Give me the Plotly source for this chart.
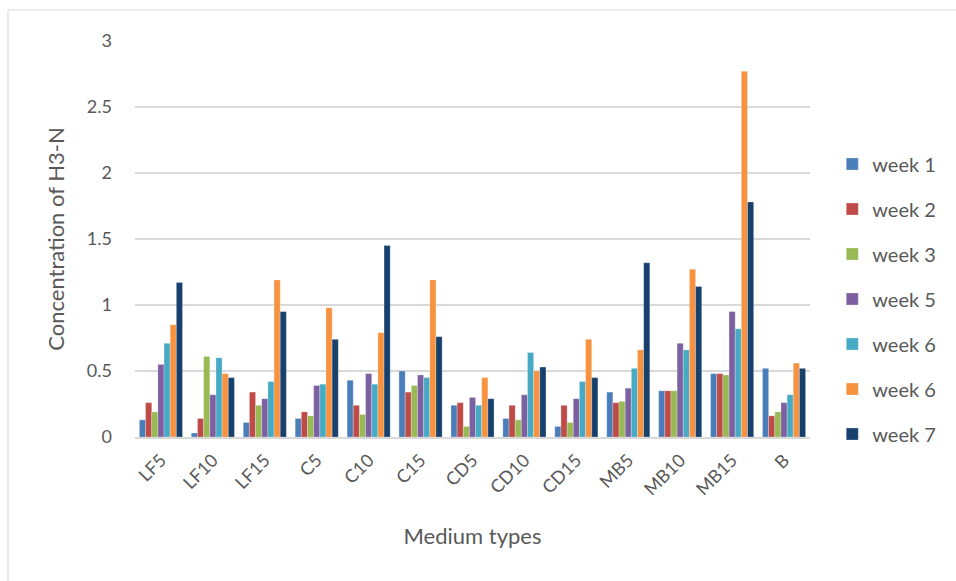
import plotly.graph_objects as go

# Medium types on the x axis
categories = ["LF5", "LF10", "LF15", "C5", "C10", "C15", "CD5", "CD10",
              "CD15", "MB5", "MB10", "MB15", "B"]

# H3-N concentration per week
week1 = [0.13, 0.03, 0.11, 0.14, 0.43, 0.50, 0.24, 0.14, 0.08, 0.34, 0.35, 0.48, 0.52]
week2 = [0.26, 0.14, 0.34, 0.19, 0.24, 0.34, 0.26, 0.24, 0.24, 0.26, 0.35, 0.48, 0.16]
week3 = [0.19, 0.61, 0.24, 0.16, 0.17, 0.39, 0.08, 0.13, 0.11, 0.27, 0.35, 0.47, 0.19]
week5 = [0.55, 0.32, 0.29, 0.39, 0.48, 0.47, 0.30, 0.32, 0.29, 0.37, 0.71, 0.95, 0.26]
week6a = [0.71, 0.60, 0.42, 0.40, 0.40, 0.45, 0.24, 0.64, 0.42, 0.52, 0.66, 0.82, 0.32]
week6b = [0.85, 0.48, 1.19, 0.98, 0.79, 1.19, 0.45, 0.50, 0.74, 0.66, 1.27, 2.77, 0.56]
week7 = [1.17, 0.45, 0.95, 0.74, 1.45, 0.76, 0.29, 0.53, 0.45, 1.32, 1.14, 1.78, 0.52]

series_names = ["week 1", "week 2", "week 3", "week 5", "week 6", "week 6", "week 7"]
series_values = [week1, week2, week3, week5, week6a, week6b, week7]
series_colors = ["#4a7ebb", "#be4b48", "#98b954", "#7d60a0", "#46aac5", "#f69240", "#17406d"]

y_ticks = [0, 0.5, 1, 1.5, 2, 2.5, 3]
y_tick_text = ["0", "0.5", "1", "1.5", "2", "2.5", "3"]

FONT = "Lato"
GREY = "#595959"

fig = go.Figure()
for i, (name, vals, col) in enumerate(zip(series_names, series_values, series_colors)):
    fig.add_trace(go.Bar(
        x=categories, y=vals, name=name,
        marker=dict(color=col, line=dict(color="rgba(255,255,255,0.5)", width=0.5)),
        legendgroup=f"g{i}",
    ))

fig.update_layout(
    width=956, height=581,
    margin=dict(l=135, r=146, t=41, b=144),
    paper_bgcolor="white", plot_bgcolor="white",
    barmode="group", bargap=0.17, bargroupgap=0,
    font=dict(family=FONT, color=GREY),
    legend=dict(
        x=1.033, y=(437 - 299) / 396, xanchor="left", yanchor="middle",
        font=dict(size=20, color=GREY, family=FONT),
        tracegroupgap=16, traceorder="grouped",
        bgcolor="rgba(0,0,0,0)",
    ),
    xaxis=dict(
        tickangle=-45, tickfont=dict(size=18, color=GREY),
        showgrid=False, showline=True, linecolor="#d9d9d9", linewidth=1.5,
        ticks="", ticklabelstandoff=4,
        title=dict(text="Medium types", font=dict(size=22, color=GREY), standoff=30),
    ),
    yaxis=dict(
        range=[0, 3], tickvals=y_ticks, ticktext=y_tick_text,
        tickfont=dict(size=18, color=GREY),
        showgrid=True, gridcolor="#d9d9d9", gridwidth=1.5,
        zeroline=False, showline=False, ticks="",
        ticklabelstandoff=22,
        title=dict(text="Concentration of H3-N", font=dict(size=22, color=GREY), standoff=16),
    ),
    shapes=[dict(
        type="rect", xref="paper", yref="paper",
        x0=(8 - 135) / 675, x1=(970 - 135) / 675,
        y0=(437 - 600) / 396, y1=(437 - 10) / 396,
        line=dict(color="#d9d9d9", width=1), fillcolor="rgba(0,0,0,0)", layer="below",
    )],
)

fig.write_html("out.html")
